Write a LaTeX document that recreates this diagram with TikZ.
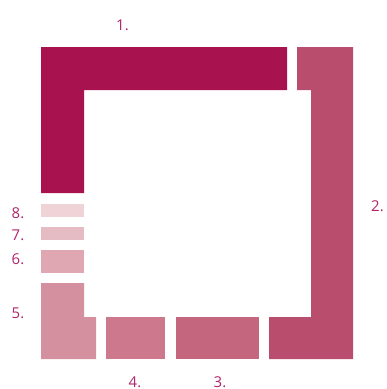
\documentclass[tikz,border=0pt]{standalone}
\usepackage{fontspec}
\setmainfont{Open Sans}
\definecolor{c1}{HTML}{A8124F}
\definecolor{c2}{HTML}{B94D6E}
\definecolor{c3}{HTML}{C3667E}
\definecolor{c4}{HTML}{CD788C}
\definecolor{c5}{HTML}{D4909F}
\definecolor{c6}{HTML}{DEA7B1}
\definecolor{c7}{HTML}{E5BCC3}
\definecolor{c8}{HTML}{EFD3D7}
\definecolor{lab}{HTML}{B0246A}
\begin{document}
\begin{tikzpicture}[x=1bp,y=-1bp,
  lbl/.style={text=lab,font=\fontsize{15}{15}\selectfont,inner sep=0pt}]
\useasboundingbox (0,0) rectangle (387,389);
% 1
\fill[c1] (41,47) -- (287,47) -- (287,90) -- (84,90) -- (84,193) -- (41,193) -- cycle;
% 2
\fill[c2] (297,47) -- (353,47) -- (353,359) -- (269,359) -- (269,317) -- (311,317) -- (311,90) -- (297,90) -- cycle;
% 3
\fill[c3] (176,317) rectangle (259,359);
% 4
\fill[c4] (106,317) rectangle (165,359);
% 5
\fill[c5] (41,283) -- (84,283) -- (84,317) -- (96,317) -- (96,359) -- (41,359) -- cycle;
% 6
\fill[c6] (41,250) rectangle (84,273);
% 7
\fill[c7] (41,227) rectangle (84,240);
% 8
\fill[c8] (41,204) rectangle (84,217);
\node[lbl] (l1) at (122.5,25) {1.};
\node[lbl] (l2) at (377.5,206) {2.};
\node[lbl] (l3) at (220,382) {3.};
\node[lbl] (l4) at (135,382) {4.};
\node[lbl] (l5) at (18,313) {5.};
\node[lbl] (l6) at (18,259) {6.};
\node[lbl] (l7) at (18,235) {7.};
\node[lbl] (l8) at (18,213) {8.};
\end{tikzpicture}
\end{document}
